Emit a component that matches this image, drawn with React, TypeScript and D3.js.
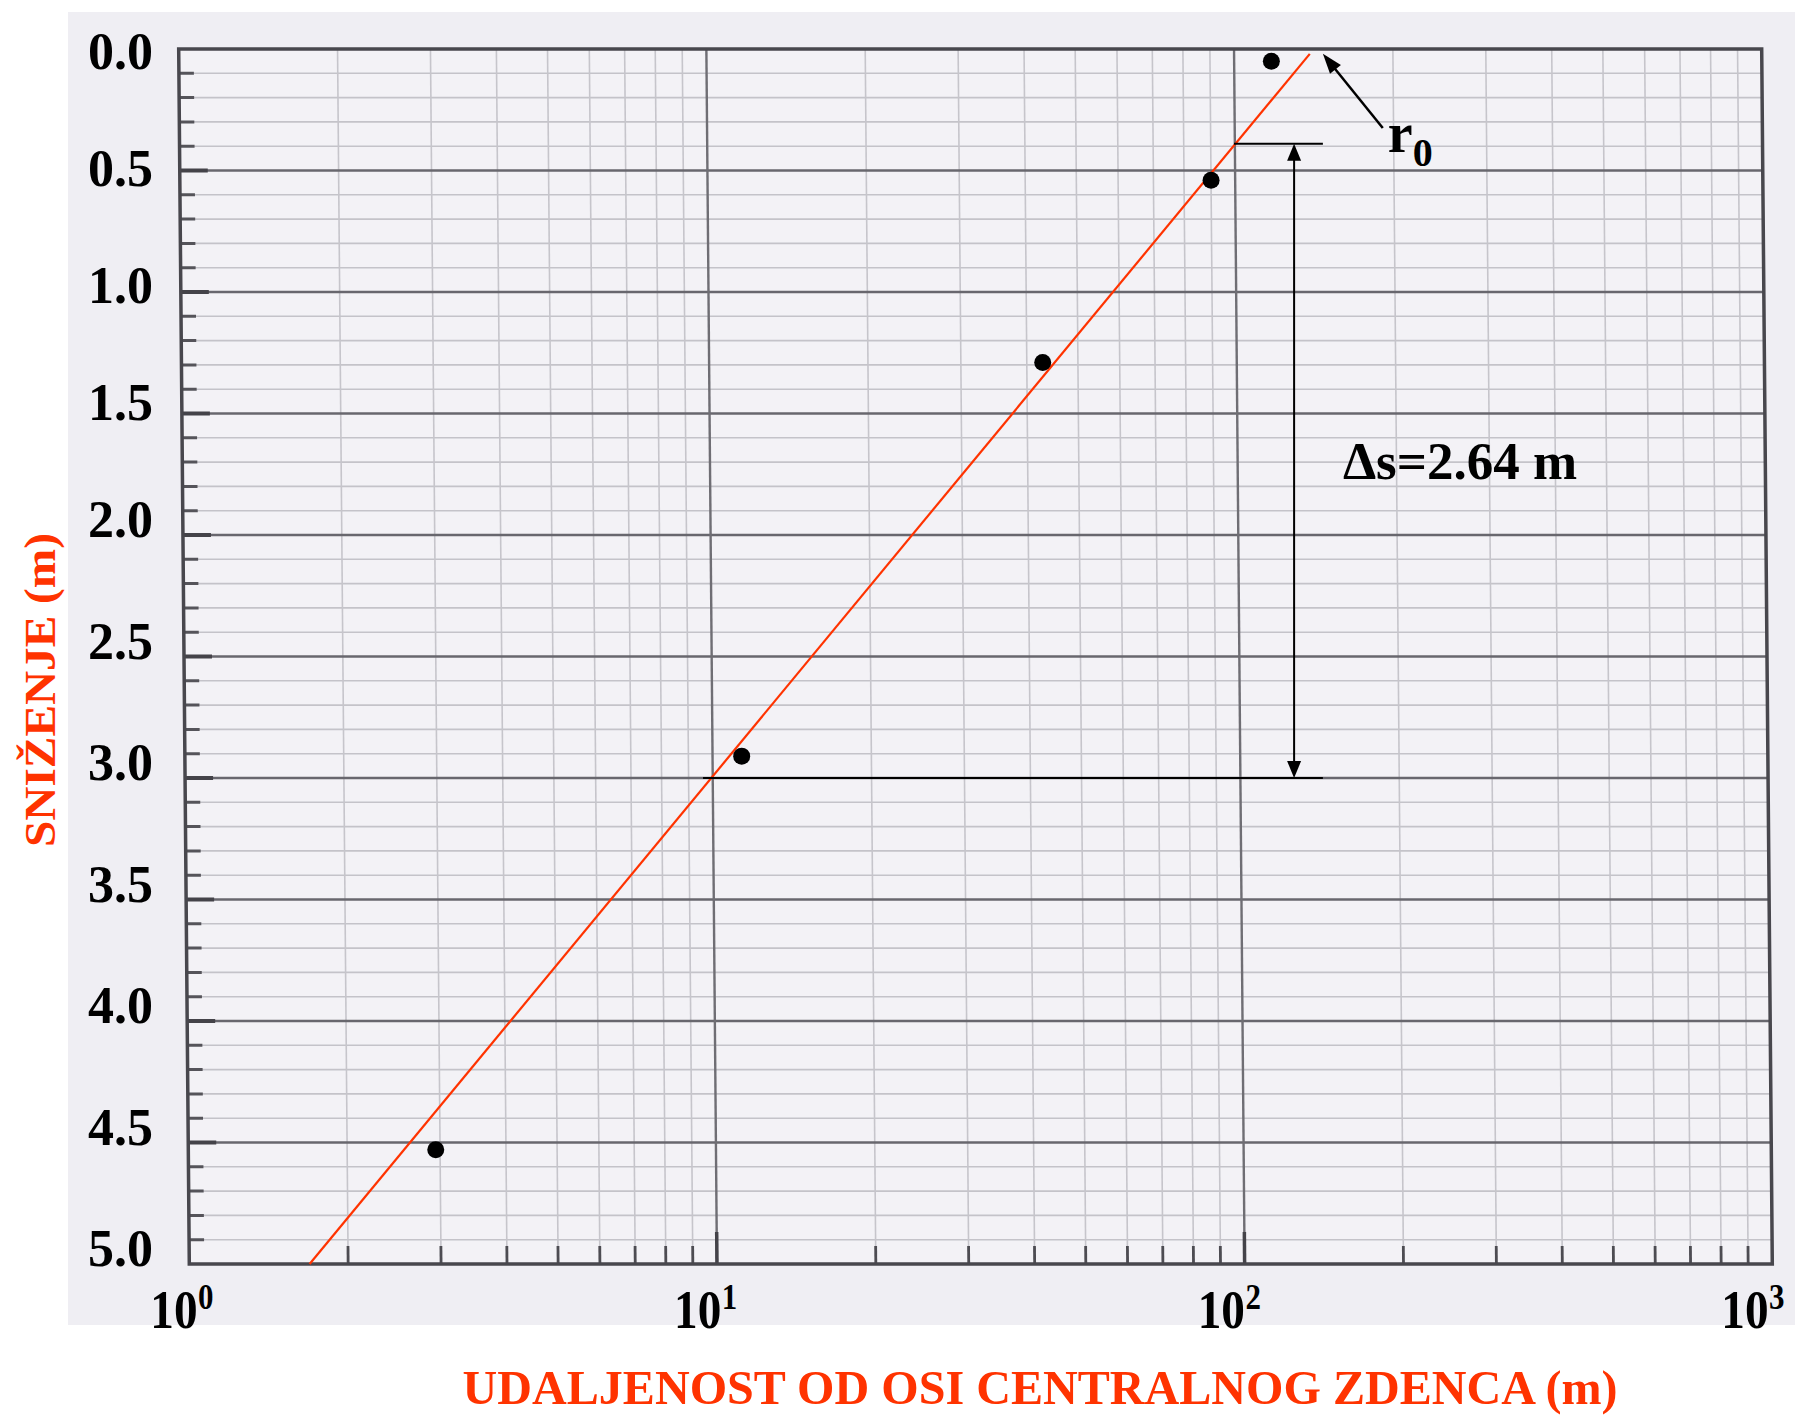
import React, { useEffect, useRef } from "react";
import * as d3 from "d3";

// measured points: distance from the central well (m) and drawdown (m)
const distance = [3.0, 11.4, 42.4, 88.4, 115];
const drawdown = [4.53, 2.91, 1.29, 0.54, 0.05];

// straight line drawn through the points, ends at r0
const fitDistance = [1.73, 136];
const fitDrawdown = [5.0, 0.02];

const yTickValues = [0, 0.5, 1, 1.5, 2, 2.5, 3, 3.5, 4, 4.5, 5];
const yTickLabels = ["0.0", "0.5", "1.0", "1.5", "2.0", "2.5", "3.0", "3.5", "4.0", "4.5", "5.0"];
const decadeValues = [1, 10, 100, 1000];
const decadeExponents = ["0", "1", "2", "3"];

// Δs construction: two horizontal lines and a double arrow between them
const deltaLevels = [3.0, 0.39];
const deltaFrom = [9.63, 97.7];
const deltaTo = 144;
const deltaArrowAt = 127;
const deltaLabel = "Δs=2.64 m";

// pointer to r0
const r0Tip = { r: 144, s: 0.02 };
const r0Tail = { r: 187, s: 0.325 };

const RED = "#ff3300";
const FONT = "'Liberation Serif', 'Times New Roman', serif";

function arrowHead(tx, ty, angle, len, w) {
    // triangle with tip at (tx, ty) pointing along angle
    const bx = tx - Math.cos(angle) * len;
    const by = ty - Math.sin(angle) * len;
    const nx = -Math.sin(angle) * w / 2;
    const ny = Math.cos(angle) * w / 2;
    return `${tx},${ty} ${bx + nx},${by + ny} ${bx - nx},${by - ny}`;
}

export default function App() {

    const width = 1801;
    const height = 1420;
    const frame = { left: 184, right: 1767, top: 49, bottom: 1264 };

    const ref = useRef(null);

    useEffect(() => {
        document.body.style.margin = "0";

        const svg = d3.select(ref.current);
        svg.selectAll("*").remove();

        const x = d3.scaleLog().domain([1, 1000]).range([frame.left, frame.right]);
        const y = d3.scaleLinear().domain([0, 5]).range([frame.top, frame.bottom]);

        // paper
        svg.append("rect")
            .attr("x", 68).attr("y", 12)
            .attr("width", 1727).attr("height", 1313)
            .attr("fill", "#efeef3");

        // the scanned grid is slightly sheared
        const midY = (frame.top + frame.bottom) / 2;
        const grid = svg.append("g")
            .attr("transform", `translate(0,${midY}) skewX(0.5) translate(0,${-midY})`);

        grid.append("rect")
            .attr("x", frame.left).attr("y", frame.top)
            .attr("width", frame.right - frame.left)
            .attr("height", frame.bottom - frame.top)
            .attr("fill", "#f3f2f6");

        const minorY = d3.range(1, 50).map(i => i / 10).filter(v => Math.round(v * 10) % 5 !== 0);
        const majorY = yTickValues.filter(v => v > 0 && v < 5);
        const minorX = x.ticks().filter(v => !decadeValues.includes(v));
        const majorX = decadeValues.filter(v => v > 1 && v < 1000);

        // minor grid
        grid.selectAll(".hminor")
            .data(minorY)
            .enter()
            .append("line")
            .attr("x1", frame.left).attr("x2", frame.right)
            .attr("y1", d => y(d)).attr("y2", d => y(d))
            .attr("stroke", "#c4c3c9")
            .attr("stroke-width", 1.6);

        grid.selectAll(".vminor")
            .data(minorX)
            .enter()
            .append("line")
            .attr("x1", d => x(d)).attr("x2", d => x(d))
            .attr("y1", frame.top).attr("y2", frame.bottom)
            .attr("stroke", "#c6c5cb")
            .attr("stroke-width", 1.6);

        // major grid
        grid.selectAll(".hmajor")
            .data(majorY)
            .enter()
            .append("line")
            .attr("x1", frame.left).attr("x2", frame.right)
            .attr("y1", d => y(d)).attr("y2", d => y(d))
            .attr("stroke", "#68676e")
            .attr("stroke-width", 2.6);

        grid.selectAll(".vmajor")
            .data(majorX)
            .enter()
            .append("line")
            .attr("x1", d => x(d)).attr("x2", d => x(d))
            .attr("y1", frame.top).attr("y2", frame.bottom)
            .attr("stroke", "#6f6e74")
            .attr("stroke-width", 2.4);

        // ticks on the left edge
        grid.selectAll(".ltick")
            .data(minorY)
            .enter()
            .append("line")
            .attr("x1", frame.left).attr("x2", frame.left + 15)
            .attr("y1", d => y(d)).attr("y2", d => y(d))
            .attr("stroke", "#55545a")
            .attr("stroke-width", 3);

        grid.selectAll(".ltickmajor")
            .data(majorY)
            .enter()
            .append("line")
            .attr("x1", frame.left).attr("x2", frame.left + 28)
            .attr("y1", d => y(d)).attr("y2", d => y(d))
            .attr("stroke", "#444349")
            .attr("stroke-width", 4);

        // ticks on the bottom edge
        grid.selectAll(".btick")
            .data(minorX)
            .enter()
            .append("line")
            .attr("x1", d => x(d)).attr("x2", d => x(d))
            .attr("y1", frame.bottom).attr("y2", frame.bottom - 18)
            .attr("stroke", "#4d4c52")
            .attr("stroke-width", 2.8);

        grid.selectAll(".btickmajor")
            .data(majorX)
            .enter()
            .append("line")
            .attr("x1", d => x(d)).attr("x2", d => x(d))
            .attr("y1", frame.bottom).attr("y2", frame.bottom - 32)
            .attr("stroke", "#444349")
            .attr("stroke-width", 3.5);

        // frame
        grid.append("rect")
            .attr("x", frame.left).attr("y", frame.top)
            .attr("width", frame.right - frame.left)
            .attr("height", frame.bottom - frame.top)
            .attr("fill", "none")
            .attr("stroke", "#48474d")
            .attr("stroke-width", 3.5);

        // y tick labels
        svg.selectAll(".ylabel")
            .data(yTickValues)
            .enter()
            .append("text")
            .text((d, i) => yTickLabels[i])
            .attr("x", 153)
            .attr("y", d => y(d) + Math.max(2, 20 - 9 * d))
            .attr("text-anchor", "end")
            .attr("font-family", FONT)
            .attr("font-weight", "bold")
            .attr("font-size", 52)
            .attr("fill", "#000");

        // x decade labels
        const xl = svg.selectAll(".xlabel")
            .data(decadeValues)
            .enter()
            .append("g")
            .attr("transform", (d, i) => `translate(${x(d) - 10 - 4 * i},1328) scale(0.86,1)`);

        xl.append("text")
            .text("10")
            .attr("text-anchor", "middle")
            .attr("font-family", FONT)
            .attr("font-weight", "bold")
            .attr("font-size", 55)
            .attr("fill", "#000");

        xl.append("text")
            .text((d, i) => decadeExponents[i])
            .attr("x", 28)
            .attr("y", -19)
            .attr("font-family", FONT)
            .attr("font-weight", "bold")
            .attr("font-size", 36)
            .attr("fill", "#000");

        // axis titles
        svg.append("text")
            .text("UDALJENOST OD OSI CENTRALNOG ZDENCA (m)")
            .attr("x", 1040)
            .attr("y", 1404)
            .attr("text-anchor", "middle")
            .attr("font-family", FONT)
            .attr("font-weight", "bold")
            .attr("font-size", 49)
            .attr("textLength", 1155)
            .attr("lengthAdjust", "spacingAndGlyphs")
            .attr("fill", RED);

        svg.append("text")
            .text("SNIŽENJE (m)")
            .attr("transform", "translate(55,690) rotate(-90)")
            .attr("text-anchor", "middle")
            .attr("font-family", FONT)
            .attr("font-weight", "bold")
            .attr("font-size", 44)
            .attr("textLength", 314)
            .attr("lengthAdjust", "spacingAndGlyphs")
            .attr("fill", RED);

        // fitted line
        const line = d3.line()
            .x(d => x(d[0]))
            .y(d => y(d[1]));

        svg.append("path")
            .datum(fitDistance.map((r, i) => [r, fitDrawdown[i]]))
            .attr("d", line)
            .attr("fill", "none")
            .attr("stroke", RED)
            .attr("stroke-width", 2.2);

        // points
        svg.selectAll(".dot")
            .data(distance)
            .enter()
            .append("circle")
            .attr("cx", d => x(d))
            .attr("cy", (d, i) => y(drawdown[i]))
            .attr("r", 8.5)
            .attr("fill", "#000");

        // Δs construction
        svg.selectAll(".dsline")
            .data(deltaLevels)
            .enter()
            .append("line")
            .attr("x1", (d, i) => x(deltaFrom[i]))
            .attr("x2", x(deltaTo))
            .attr("y1", d => y(d)).attr("y2", d => y(d))
            .attr("stroke", "#000")
            .attr("stroke-width", 2);

        const ax = x(deltaArrowAt);
        const yLow = y(deltaLevels[0]);
        const yHigh = y(deltaLevels[1]);
        svg.append("line")
            .attr("x1", ax).attr("x2", ax)
            .attr("y1", yHigh + 12).attr("y2", yLow - 12)
            .attr("stroke", "#000")
            .attr("stroke-width", 2);
        svg.append("polygon")
            .attr("points", arrowHead(ax, yHigh, -Math.PI / 2, 17, 14))
            .attr("fill", "#000");
        svg.append("polygon")
            .attr("points", arrowHead(ax, yLow, Math.PI / 2, 17, 14))
            .attr("fill", "#000");

        svg.append("text")
            .text(deltaLabel)
            .attr("x", x(deltaTo) + 20)
            .attr("y", (yLow + yHigh) / 2 + 18)
            .attr("font-family", FONT)
            .attr("font-weight", "bold")
            .attr("font-size", 53)
            .attr("fill", "#000");

        // r0 pointer
        const tx = x(r0Tip.r), ty = y(r0Tip.s);
        const sx = x(r0Tail.r), sy = y(r0Tail.s);
        const ang = Math.atan2(ty - sy, tx - sx);
        svg.append("line")
            .attr("x1", sx).attr("y1", sy)
            .attr("x2", tx - Math.cos(ang) * 14).attr("y2", ty - Math.sin(ang) * 14)
            .attr("stroke", "#000")
            .attr("stroke-width", 2.5);
        svg.append("polygon")
            .attr("points", arrowHead(tx, ty, ang, 20, 14))
            .attr("fill", "#000");

        const r0 = svg.append("text")
            .attr("x", sx + 5)
            .attr("y", sy + 24)
            .attr("font-family", FONT)
            .attr("font-weight", "bold")
            .attr("font-size", 56)
            .attr("fill", "#000");
        r0.append("tspan").text("r");
        r0.append("tspan").text("0").attr("font-size", 40).attr("dy", 14);

    }, []);

    return (
        <svg
            width={width}
            height={height}
            viewBox={`0 0 ${width} ${height}`}
            style={{ display: "block", background: "#fff" }}
        >
            <g ref={ref} />
        </svg>
    );
}
